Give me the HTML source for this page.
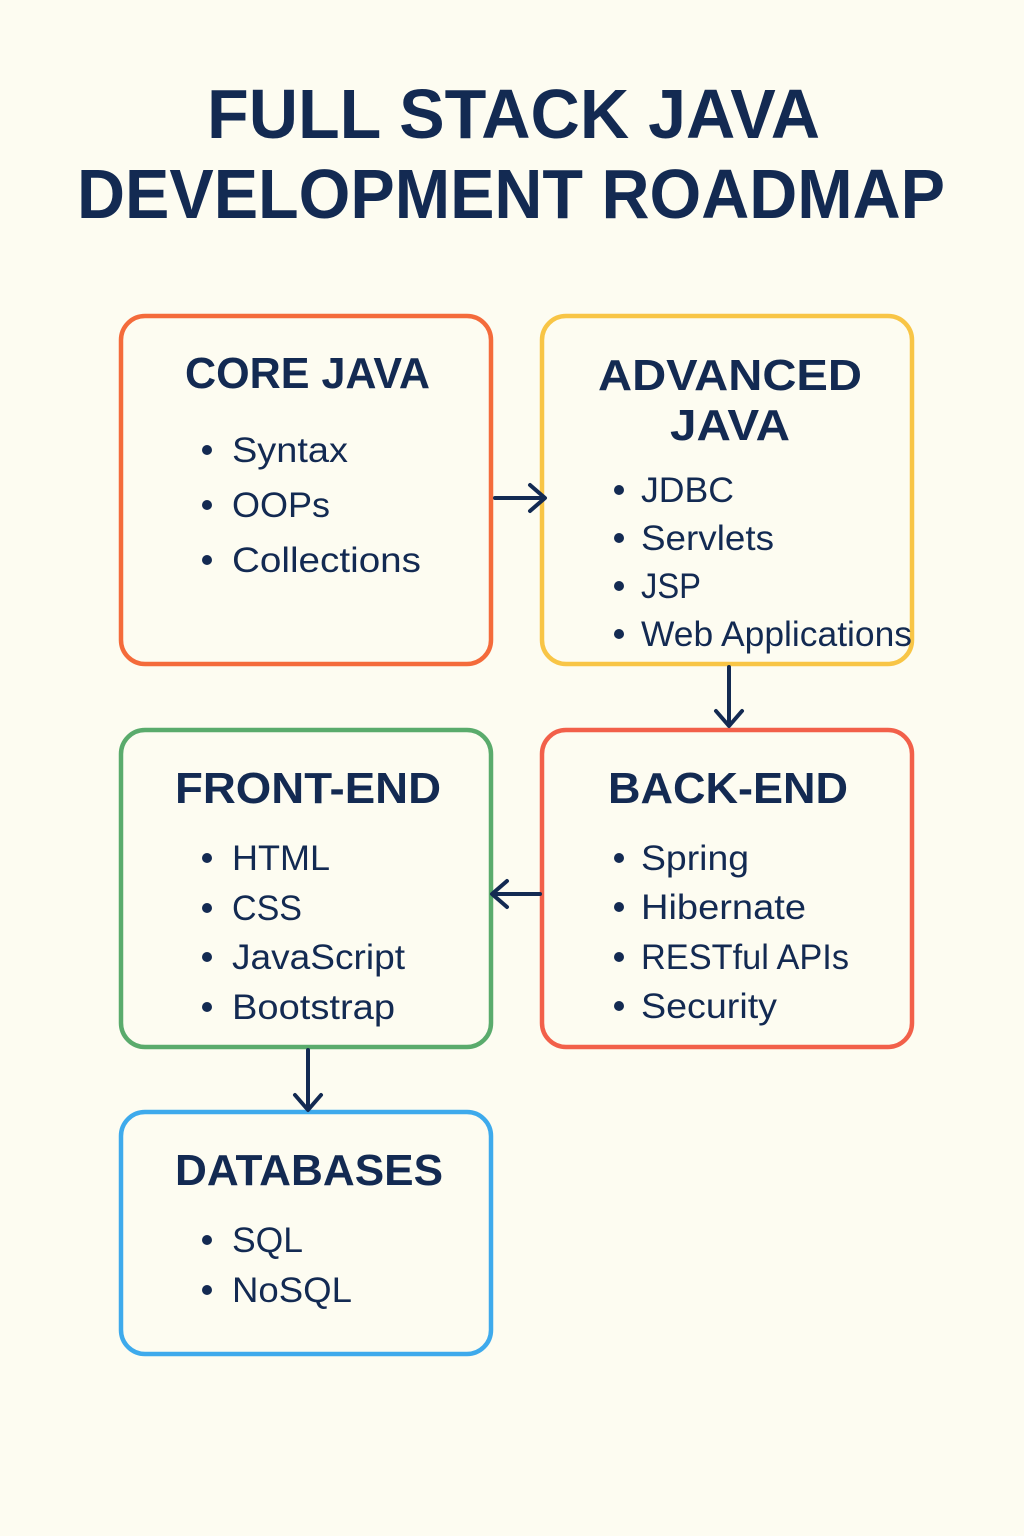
<!DOCTYPE html>
<html><head><meta charset="utf-8"><style>
html,body{margin:0;padding:0;background:#fdfcf1;}
svg{display:block}
text{font-family:"Liberation Sans",sans-serif;fill:#132a52;}
.t{font-weight:bold;font-size:70px}
.h{font-weight:bold;font-size:44px}
.i{font-size:35px}
</style></head><body>
<svg width="1024" height="1536" viewBox="0 0 1024 1536" xmlns="http://www.w3.org/2000/svg">
<rect width="1024" height="1536" fill="#fdfcf1"/>
<text class="t" x="207" y="138" textLength="613" lengthAdjust="spacingAndGlyphs">FULL STACK JAVA</text>
<text class="t" x="77" y="218" textLength="868" lengthAdjust="spacingAndGlyphs">DEVELOPMENT ROADMAP</text>

<g fill="none" stroke-width="4.5">
<rect x="121" y="316" width="370" height="348" rx="24" stroke="#f46b3b"/>
<rect x="542" y="316" width="370" height="348" rx="24" stroke="#f8c546"/>
<rect x="121" y="730" width="370" height="317" rx="24" stroke="#5aab6c"/>
<rect x="542" y="730" width="370" height="317" rx="24" stroke="#f2604a"/>
<rect x="121" y="1112" width="370" height="242" rx="24" stroke="#3eaaec"/>
</g>

<g stroke="#132a52" stroke-width="4" fill="none" stroke-linecap="round" stroke-linejoin="round">
<path d="M495 498 H544 M530 485 L545 498 L530 511"/>
<path d="M729 667 V725 M716 711 L729 726 L742 711"/>
<path d="M540 894 H493 M507 881 L492 894 L507 907"/>
<path d="M308 1050 V1109 M295 1095 L308 1110 L321 1095"/>
</g>

<text class="h" x="185" y="388" textLength="245" lengthAdjust="spacingAndGlyphs">CORE JAVA</text>
<g fill="#132a52">
<circle cx="207" cy="450" r="5"/><circle cx="207" cy="505" r="5"/><circle cx="207" cy="560" r="5"/>
<circle cx="619" cy="490" r="5"/><circle cx="619" cy="538" r="5"/><circle cx="619" cy="586" r="5"/><circle cx="619" cy="634" r="5"/>
<circle cx="207" cy="858" r="5"/><circle cx="207" cy="908" r="5"/><circle cx="207" cy="957" r="5"/><circle cx="207" cy="1007" r="5"/>
<circle cx="619" cy="858" r="5"/><circle cx="619" cy="907" r="5"/><circle cx="619" cy="957" r="5"/><circle cx="619" cy="1006" r="5"/>
<circle cx="207" cy="1240" r="5"/><circle cx="207" cy="1290" r="5"/>
</g>
<text class="i" x="232" y="462" textLength="116" lengthAdjust="spacingAndGlyphs">Syntax</text>
<text class="i" x="232" y="517" textLength="98" lengthAdjust="spacingAndGlyphs">OOPs</text>
<text class="i" x="232" y="572" textLength="189" lengthAdjust="spacingAndGlyphs">Collections</text>

<text class="h" x="598" y="390" textLength="264" lengthAdjust="spacingAndGlyphs">ADVANCED</text>
<text class="h" x="670" y="440" textLength="120" lengthAdjust="spacingAndGlyphs">JAVA</text>
<text class="i" x="641" y="502" textLength="93" lengthAdjust="spacingAndGlyphs">JDBC</text>
<text class="i" x="641" y="550" textLength="133" lengthAdjust="spacingAndGlyphs">Servlets</text>
<text class="i" x="641" y="598" textLength="60" lengthAdjust="spacingAndGlyphs">JSP</text>
<text class="i" x="641" y="646" textLength="271" lengthAdjust="spacingAndGlyphs">Web Applications</text>

<text class="h" x="175" y="803" textLength="266" lengthAdjust="spacingAndGlyphs">FRONT-END</text>
<text class="i" x="232" y="870" textLength="98" lengthAdjust="spacingAndGlyphs">HTML</text>
<text class="i" x="232" y="920" textLength="70" lengthAdjust="spacingAndGlyphs">CSS</text>
<text class="i" x="232" y="969" textLength="173" lengthAdjust="spacingAndGlyphs">JavaScript</text>
<text class="i" x="232" y="1019" textLength="163" lengthAdjust="spacingAndGlyphs">Bootstrap</text>

<text class="h" x="608" y="803" textLength="240" lengthAdjust="spacingAndGlyphs">BACK-END</text>
<text class="i" x="641" y="870" textLength="108" lengthAdjust="spacingAndGlyphs">Spring</text>
<text class="i" x="641" y="919" textLength="165" lengthAdjust="spacingAndGlyphs">Hibernate</text>
<text class="i" x="641" y="969" textLength="208" lengthAdjust="spacingAndGlyphs">RESTful APIs</text>
<text class="i" x="641" y="1018" textLength="136" lengthAdjust="spacingAndGlyphs">Security</text>

<text class="h" x="175" y="1185" textLength="268" lengthAdjust="spacingAndGlyphs">DATABASES</text>
<text class="i" x="232" y="1252" textLength="71" lengthAdjust="spacingAndGlyphs">SQL</text>
<text class="i" x="232" y="1302" textLength="120" lengthAdjust="spacingAndGlyphs">NoSQL</text>
</svg>
</body></html>
